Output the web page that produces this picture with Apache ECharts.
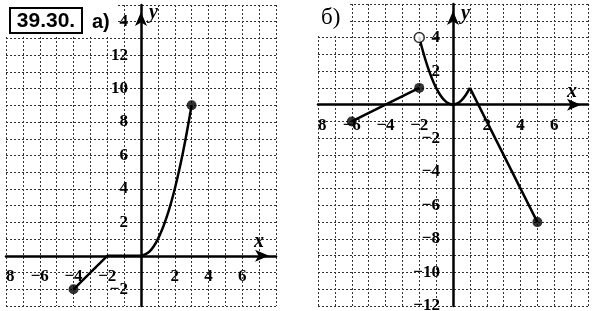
<!DOCTYPE html>
<html><head><meta charset="utf-8">
<script src="https://cdn.jsdelivr.net/npm/echarts@6/dist/echarts.min.js"></script>
<style>html,body{margin:0;padding:0;background:#fff}#c{width:594px;height:311px}</style>
</head><body><div id="c"></div>
<script>
// tick labels (value -> shown text)
const xTickValues = [-8, -6, -4, -2, 2, 4, 6];
const xTickTexts  = ['8', '−6', '−4', '−2', '2', '4', '6'];
const yTickValuesA = [14, 12, 10, 8, 6, 4, 2, -2];
const yTickTextsA  = ['4', '12', '10', '8', '6', '4', '2', '−2'];
const yTickValuesB = [4, 2, -2, -4, -6, -8, -10, -12];
const yTickTextsB  = ['4', '2', '−2', '−4', '−6', '−8', '−10', '−12'];

// graph a)
const lineA1 = [[-4, -2], [-2, 0], [0, 0]];
const curveA = [[0, 0], [0.5, 0.25], [1, 1], [1.5, 2.25], [2, 4], [2.5, 6.25], [3, 9]];
const dotsA = [[-4, -2], [3, 9]];

// graph б)
const lineB1 = [[-6, -1], [-2, 1]];
const curveB = [[-2, 4], [-1.5, 2.25], [-1, 1], [-0.5, 0.25], [0, 0], [0.5, 0.25], [1, 1]];
const lineB2 = [[1, 1], [5, -7]];
const dotsB = [[-6, -1], [-2, 1], [5, -7]];
const openDotsB = [[-2, 4]];

const grids = [
  { left: 6, top: 5, width: 270, height: 301, xMin: -8, xMax: 8, yMin: -3, yMax: 15 },
  { left: 318, top: 4, width: 270, height: 302, xMin: -8, xMax: 8, yMin: -12, yMax: 6 }
];

function fmt(vals, texts) {
  return function (v) { const i = vals.indexOf(Math.round(v)); return i < 0 ? '' : texts[i]; };
}
const labelFont = { fontFamily: 'Liberation Serif', fontWeight: 'bold', fontSize: 17, color: '#000' };
const axisLine = {
  onZero: true,
  lineStyle: { color: '#000', width: 2.5 },
  symbol: ['none', 'arrow'],
  symbolSize: [9, 14],
  symbolOffset: [0, -7]
};
const splitLine = { show: true, lineStyle: { color: '#333', width: 1, type: [2, 2] } };

function mainX(gi) {
  const g = grids[gi];
  return { type: 'value', gridIndex: gi, min: g.xMin, max: g.xMax, interval: 1,
    axisLine: axisLine, axisTick: { show: false }, splitLine: splitLine, axisLabel: { show: false } };
}
function mainY(gi) {
  const g = grids[gi];
  return { type: 'value', gridIndex: gi, min: g.yMin, max: g.yMax, interval: 1,
    axisLine: axisLine, axisTick: { show: false }, splitLine: splitLine, axisLabel: { show: false } };
}
// label-only axes moved onto the zero lines
function labelX(gi) {
  const g = grids[gi];
  const zeroFromBottom = g.height * (0 - g.yMin) / (g.yMax - g.yMin);
  return { type: 'value', gridIndex: gi, min: g.xMin, max: g.xMax, interval: 1, position: 'bottom',
    offset: -zeroFromBottom, axisLine: { show: false }, axisTick: { show: false }, splitLine: { show: false },
    axisLabel: Object.assign({ margin: 12, formatter: fmt(xTickValues, xTickTexts), alignMinLabel: 'left', showMinLabel: true }, labelFont) };
}
function labelY(gi, vals, texts) {
  const g = grids[gi];
  const zeroFromLeft = g.width * (0 - g.xMin) / (g.xMax - g.xMin);
  return { type: 'value', gridIndex: gi, min: g.yMin, max: g.yMax, interval: 1, position: 'left',
    offset: -zeroFromLeft, axisLine: { show: false }, axisTick: { show: false }, splitLine: { show: false },
    axisLabel: Object.assign({ margin: 13, formatter: fmt(vals, texts), showMinLabel: true, showMaxLabel: true }, labelFont) };
}
const lineStyle = { color: '#000', width: 2.5 };
function line(data, xi, smooth) {
  return { type: 'line', xAxisIndex: xi, yAxisIndex: xi, data: data, showSymbol: false, smooth: smooth ? 0.4 : false,
    lineStyle: lineStyle, z: 5, silent: true, animation: false };
}
function dots(data, xi, open) {
  return { type: 'scatter', xAxisIndex: xi, yAxisIndex: xi, data: data, symbolSize: 10, z: 6, animation: false,
    itemStyle: open ? { color: '#fff', borderColor: '#000', borderWidth: 1.5 } : { color: '#000' } };
}

const chart = echarts.init(document.getElementById('c'), null, { renderer: 'canvas' });
chart.setOption({
  animation: false,
  grid: grids.map(g => ({ left: g.left, top: g.top, width: g.width, height: g.height, containLabel: false, outerBoundsMode: 'none' })),
  xAxis: [mainX(0), mainX(1), labelX(0), labelX(1)],
  yAxis: [mainY(0), mainY(1), labelY(0, yTickValuesA, yTickTextsA), labelY(1, yTickValuesB, yTickTextsB)],
  series: [
    line(lineA1, 0), line(curveA, 0, true), dots(dotsA, 0),
    line(lineB1, 1), line(curveB, 1, true), line(lineB2, 1), dots(dotsB, 1), dots(openDotsB, 1, true)
  ],
  graphic: [
    { type: 'rect', z: 100, shape: { x: 0, y: 0, width: 116, height: 36 }, style: { fill: '#fff' } },
    { type: 'rect', z: 100, shape: { x: 296, y: 0, width: 53, height: 36 }, style: { fill: '#fff' } },
    { type: 'rect', z: 101, shape: { x: 10, y: 8, width: 72, height: 25 }, style: { fill: '#fff', stroke: '#000', lineWidth: 2 } },
    { type: 'text', z: 102, x: 46, y: 21, style: { text: '39.30.', fontFamily: 'Liberation Sans', fontWeight: 'bold', fontSize: 21, fill: '#000', align: 'center', verticalAlign: 'middle' } },
    { type: 'text', z: 102, x: 92, y: 22, style: { text: 'а)', fontFamily: 'Liberation Sans', fontWeight: 'bold', fontSize: 20, fill: '#000', align: 'left', verticalAlign: 'middle' } },
    { type: 'text', z: 102, x: 321, y: 18, style: { text: 'б)', fontFamily: 'Liberation Serif', fontSize: 23, fill: '#000', align: 'left', verticalAlign: 'middle' } },
    { type: 'text', z: 102, x: 149, y: 3, style: { text: 'y', fontFamily: 'Liberation Serif', fontStyle: 'italic', fontWeight: 'bold', fontSize: 20, fill: '#000' } },
    { type: 'text', z: 102, x: 254, y: 232, style: { text: 'x', fontFamily: 'Liberation Serif', fontStyle: 'italic', fontWeight: 'bold', fontSize: 20, fill: '#000' } },
    { type: 'text', z: 102, x: 461, y: 4, style: { text: 'y', fontFamily: 'Liberation Serif', fontStyle: 'italic', fontWeight: 'bold', fontSize: 20, fill: '#000' } },
    { type: 'text', z: 102, x: 567, y: 82, style: { text: 'x', fontFamily: 'Liberation Serif', fontStyle: 'italic', fontWeight: 'bold', fontSize: 20, fill: '#000' } }
  ]
});
</script>
</body></html>
